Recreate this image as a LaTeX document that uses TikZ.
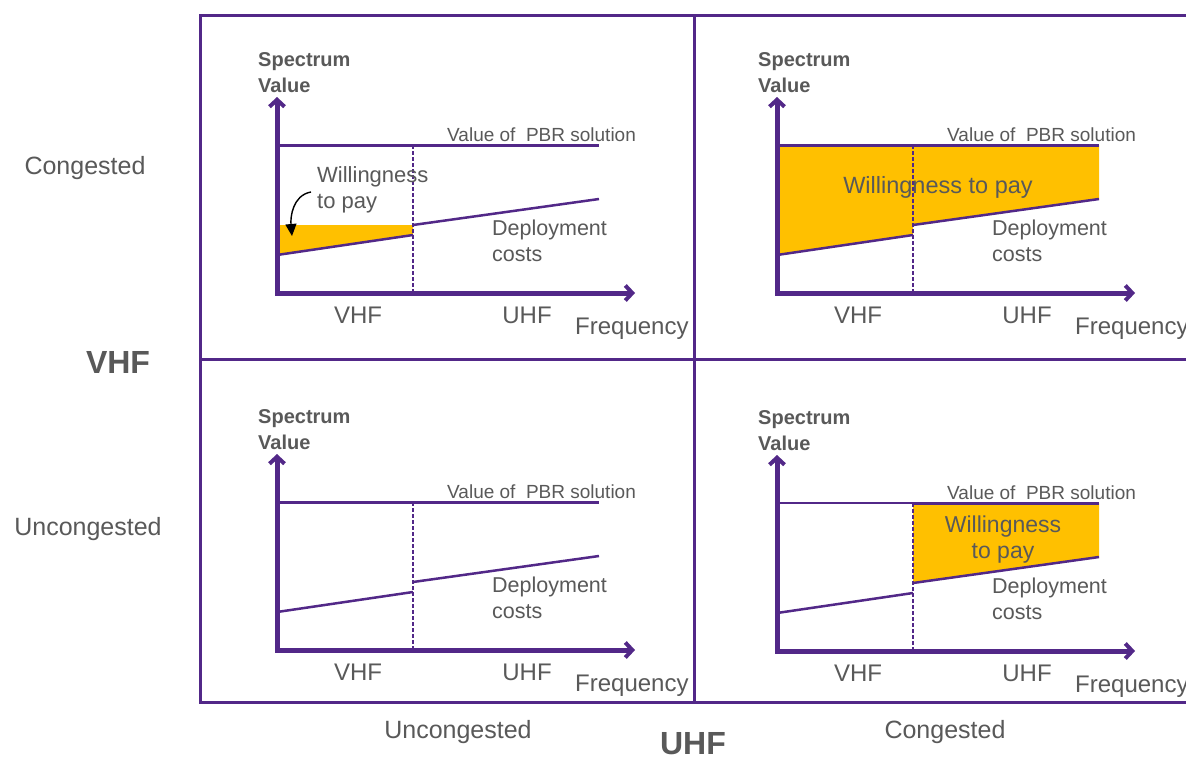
\documentclass[tikz,border=0pt]{standalone}
\usepackage{fontspec}
\setmainfont{Liberation Sans}
\usetikzlibrary{arrows.meta}
\definecolor{axispurple}{RGB}{82,40,136}
\definecolor{wtporange}{RGB}{255,192,0}
\definecolor{labelgray}{RGB}{89,89,89}
\tikzset{
  frameline/.style={axispurple, line width=3pt},
  axisline/.style={axispurple, line width=5pt,
    {Straight Barb[length=7pt,width=15pt,line width=4pt]}-{Straight Barb[length=7pt,width=15pt,line width=4pt]}},
  pbrline/.style={axispurple, line width=3pt},
  costline/.style={axispurple, line width=2.5pt},
  splitline/.style={axispurple, line width=1.6pt, dash pattern=on 4pt off 2pt},
  wtpfill/.style={fill=wtporange},
  lbl/.style={text=labelgray, inner sep=0pt, font=\fontsize{22}{26}\selectfont},
  axislbl/.style={lbl, font=\bfseries\fontsize{20}{26}\selectfont, align=left},
  bandlbl/.style={lbl, font=\fontsize{24}{28}\selectfont},
  sidelbl/.style={lbl, font=\fontsize{25}{28}\selectfont},
  headlbl/.style={lbl, font=\bfseries\fontsize{32}{36}\selectfont}
}
% one chart: axes, PBR value, band split, deployment costs
\newcommand{\drawpanel}[2][3pt]{%
  \draw[pbrline, line width=#1] (0,-148) -- (136,-148);
  \draw[pbrline] (136,-148) -- (322,-148);
  \draw[splitline] (136,-148) -- (136,0);
  \draw[costline] (0,-38) -- (136,-58);
  \draw[costline] (136,-68) -- (322,-94);
  \draw[axisline] (0,-196) -- (0,0) -- (358,0);
  \node[axislbl, anchor=west] (#2-value) at (-19,-220) {Spectrum\\Value};
  \node[lbl, font=\fontsize{19}{22}\selectfont, anchor=west] (#2-pbr) at (170,-158) {Value of\ \ PBR solution};
  \node[lbl, anchor=west, align=left, font=\fontsize{21.5}{26}\selectfont] (#2-cost) at (215,-52) {Deployment\\costs};
  \node[bandlbl] (#2-vhf) at (81,22) {VHF};
  \node[bandlbl] (#2-uhf) at (250,22) {UHF};
  \node[bandlbl, anchor=west] (#2-freq) at (298,36) {Frequency};
}
\begin{document}
\begin{tikzpicture}[x=1pt,y=-1pt]
\useasboundingbox (0,0) rectangle (1186,758);
\clip (0,0) rectangle (1186,758);
\fill[white] (0,0) rectangle (1186,758);

% grid
\draw[frameline] (1200,15) -- (200,15) -- (200,702) -- (1200,702);
\draw[frameline] (694,15) -- (694,702);
\draw[frameline] (200,359) -- (1200,359);

% VHF congested, UHF uncongested
\begin{scope}[shift={(277,293)}]
  \fill[wtpfill] (0,-68) -- (136,-68) -- (136,-58) -- (0,-38) -- cycle;
  \drawpanel{tl}
  \node[lbl, anchor=west, align=left] (tl-wtp) at (40,-103) {Willingness\\to pay};
  \coordinate (tl-tip) at (15,-57);
  \draw[black, line width=1.4pt, -{Triangle[length=12pt,width=11pt]}] (tl-wtp.west |- 0,-101) ++(-6,0) to[out=190,in=95] (tl-tip);
\end{scope}

% VHF congested, UHF congested
\begin{scope}[shift={(777,293)}]
  \fill[wtpfill] (0,-148) -- (322,-148) -- (322,-94) -- (136,-68) -- (136,-58) -- (0,-38) -- cycle;
  \drawpanel{tr}
  \node[lbl, font=\fontsize{23.5}{28}\selectfont] (tr-wtp) at (161,-106) {Willingness to pay};
\end{scope}

% VHF uncongested, UHF uncongested
\begin{scope}[shift={(277,650)}]
  \drawpanel{bl}
\end{scope}

% VHF uncongested, UHF congested
\begin{scope}[shift={(777,651)}]
  \fill[wtpfill] (136,-148) -- (322,-148) -- (322,-94) -- (136,-68) -- cycle;
  \drawpanel[1.5pt]{br}
  \node[lbl, align=center, font=\fontsize{23}{26}\selectfont] (br-wtp) at (226,-111) {Willingness\\to pay};
\end{scope}

% row and column headings
\node[sidelbl] (row-cong) at (85,168) {Congested};
\node[headlbl] (row-vhf) at (118,362) {VHF};
\node[sidelbl] (row-uncong) at (88,529) {Uncongested};
\node[sidelbl] (col-uncong) at (458,732) {Uncongested};
\node[sidelbl] (col-cong) at (945,732) {Congested};
\node[headlbl] (col-uhf) at (693,744) {UHF};
\end{tikzpicture}
\end{document}
